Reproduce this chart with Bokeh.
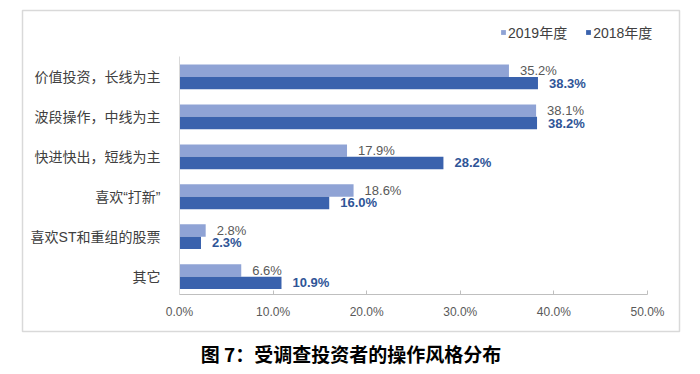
from bokeh.plotting import figure
from bokeh.models import (ColumnDataSource, Legend, LegendItem, LabelSet, Title,
                          LinearAxis, PrintfTickFormatter, FixedTicker)
from bokeh.transform import dodge
from bokeh.core.properties import value
from bokeh.embed import file_html
from bokeh.resources import INLINE

categories = ["价值投资，长线为主", "波段操作，中线为主", "快进快出，短线为主",
              "喜欢“打新”", "喜欢ST和重组的股票", "其它"]
y2019 = [35.2, 38.1, 17.9, 18.6, 2.8, 6.6]
y2018 = [38.3, 38.2, 28.2, 16.0, 2.3, 10.9]
series = ["2019年度", "2018年度"]
x_ticks = [0, 10, 20, 30, 40, 50]
title_text = "图 7：受调查投资者的操作风格分布"

c2019 = "#8FA3D5"
c2018 = "#3A62AD"
mixed_font = "'Liberation Sans', 'Noto Sans CJK SC'"

n = len(categories)
pos = [n - 1 - i for i in range(n)]   # first category on top

src = ColumnDataSource(dict(
    pos=pos, v19=y2019, v18=y2018,
    l19=[f"{v:.1f}%" for v in y2019], l18=[f"{v:.1f}%" for v in y2018],
))

W, H = 690, 372
# frame == outer chart box (page 22..679 x, 10..333 y)
p = figure(width=W, height=H, x_range=(-16.77, 53.42), y_range=(-1.373, 6.662),
           output_backend="svg", toolbar_location=None,
           x_axis_location=None, y_axis_location=None,
           min_border_left=22, min_border_right=W - 679, min_border_top=10,
           min_border_bottom=H - 333)
p.outline_line_color = "#D9D9D9"
p.outline_line_width = 1.5
p.xgrid.grid_line_color = None
p.ygrid.grid_line_color = None

bh = 0.31
r19 = p.hbar(y=dodge("pos", bh / 2), right="v19", left=0,
             height=bh, source=src, fill_color=c2019, line_color=None)
r18 = p.hbar(y=dodge("pos", -bh / 2), right="v18", left=0,
             height=bh, source=src, fill_color=c2018, line_color=None)

p.add_layout(LabelSet(x="v19", y=dodge("pos", bh / 2), text="l19",
                      source=src, x_offset=11, text_baseline="middle",
                      text_font=value("Liberation Sans"), text_font_size="13px",
                      text_color="#595959"))
p.add_layout(LabelSet(x="v18", y=dodge("pos", -bh / 2), text="l18",
                      source=src, x_offset=11, text_baseline="middle",
                      text_font=value("Liberation Sans"), text_font_size="13px",
                      text_font_style="bold", text_color="#2F5597"))

# x axis (inside the box)
xa = LinearAxis(fixed_location=-0.45, bounds=(0, 50),
                ticker=FixedTicker(ticks=x_ticks),
                formatter=PrintfTickFormatter(format="%.1f%%"))
xa.axis_line_color = "#BFBFBF"
xa.major_tick_line_color = "#BFBFBF"
xa.major_tick_in = 4
xa.major_tick_out = 0
xa.minor_tick_line_color = None
xa.major_label_text_font = "Liberation Sans"
xa.major_label_text_font_size = "12px"
xa.major_label_text_color = "#595959"
xa.major_label_standoff = 10
p.add_layout(xa, "below")

# y axis (category labels)
ya = LinearAxis(fixed_location=0, bounds=(-0.45, n - 0.5),
                ticker=FixedTicker(ticks=pos),
                major_label_overrides={pp: c for pp, c in zip(pos, categories)})
ya.axis_line_color = "#D9D9D9"
ya.major_tick_line_color = None
ya.minor_tick_line_color = None
ya.major_label_text_font = mixed_font
ya.major_label_text_font_size = "14px"
ya.major_label_text_color = "#404040"
ya.major_label_standoff = 13
p.add_layout(ya, "left")

# legend
legend = Legend(items=[LegendItem(label=series[0], renderers=[r19]),
                       LegendItem(label=series[1], renderers=[r18])],
                orientation="horizontal", location=(478, 289),
                glyph_width=6, glyph_height=6, label_standoff=2, spacing=18,
                padding=0, margin=0, border_line_color=None,
                background_fill_alpha=0,
                label_text_font=mixed_font, label_text_font_size="14px",
                label_text_color="#404040")
p.add_layout(legend, "center")

# caption below the box
p.add_layout(Title(text=title_text, align="center", text_font="Noto Sans CJK SC",
                   text_font_size="19px", text_font_style="bold",
                   text_color="#000000", standoff=12), "below")

open("out.html", "w").write(file_html(p, INLINE))
